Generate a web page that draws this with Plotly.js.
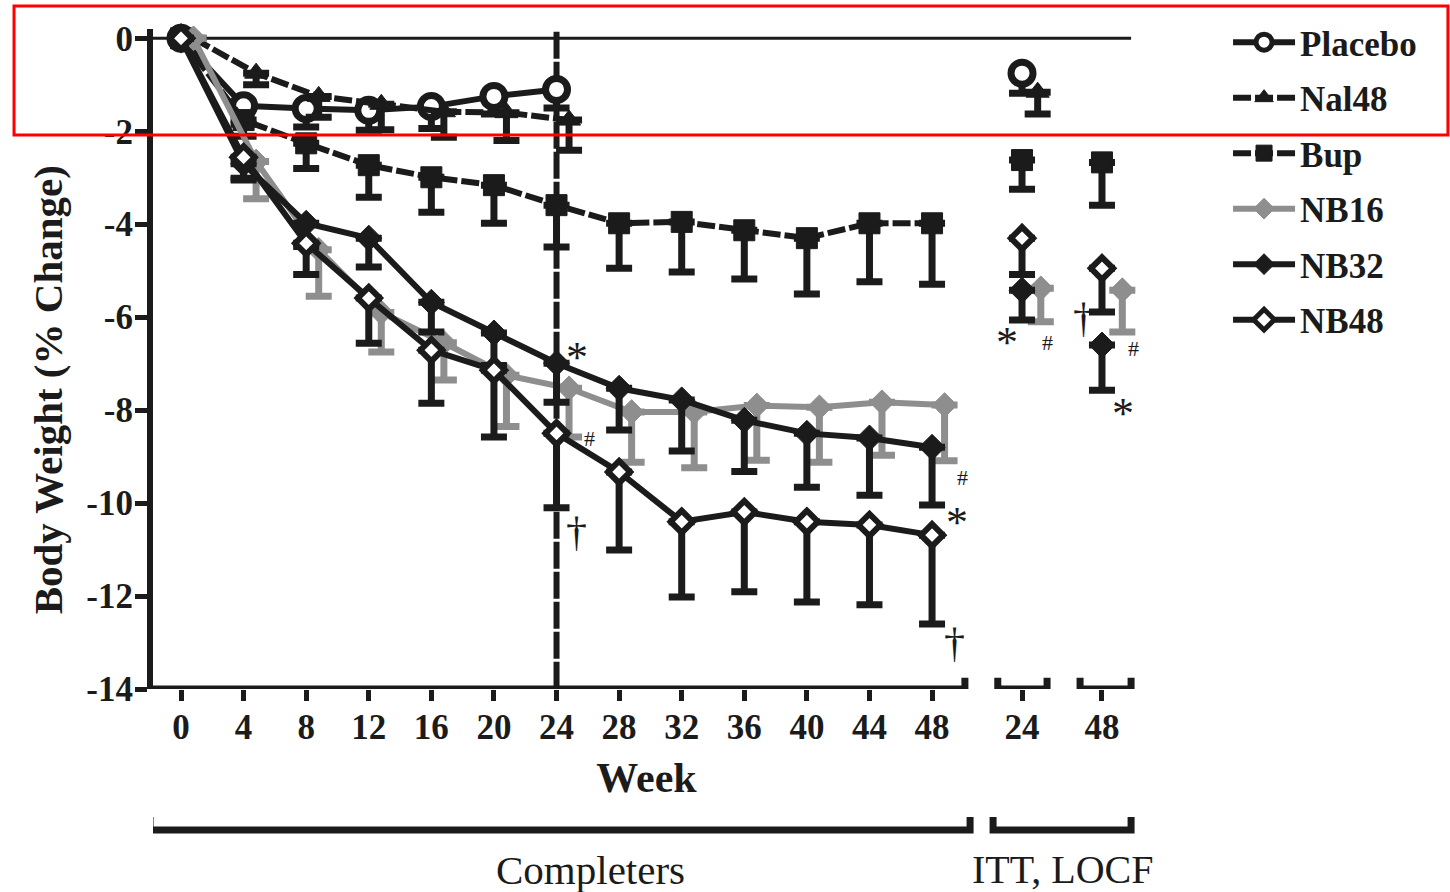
<!DOCTYPE html>
<html>
<head>
<meta charset="utf-8">
<script src="https://cdn.plot.ly/plotly-3.0.1.min.js"></script>
<style>html,body{margin:0;padding:0;background:#fff}#chart{width:1450px;height:892px}</style>
</head>
<body>
<div id="chart"></div>
<script>
// ---------------- data ----------------
const weeksShort = [0, 4, 8, 12, 16, 20, 24];
const weeksLong = [0, 4, 8, 12, 16, 20, 24, 28, 32, 36, 40, 44, 48];
const weekTickLabels = ['0','4','8','12','16','20','24','28','32','36','40','44','48'];
const ittTickLabels = ['24', '48'];
const yTickValues = [0, -2, -4, -6, -8, -10, -12, -14];
const yTickLabels = ['0', '-2', '-4', '-6', '-8', '-10', '-12', '-14'];
const seriesNames = ['Placebo', 'Nal48', 'Bup', 'NB16', 'NB32', 'NB48'];

// Completers: mean % change and SE (drawn downward)
const placebo   = [0, -1.45, -1.51, -1.55, -1.47, -1.25, -1.10];
const placeboSE = [null, 0.40, 0.40, 0.43, 0.47, 0.38, 0.40];
const nal48     = [0, -0.75, -1.25, -1.42, -1.58, -1.60, -1.76];
const nal48SE   = [null, 0.25, 0.45, 0.55, 0.55, 0.60, 0.65];
const bup       = [0, -1.76, -2.26, -2.73, -2.99, -3.16, -3.59, -3.98, -3.95, -4.13, -4.30, -3.98, -3.98];
const bupSE     = [null, 0.35, 0.54, 0.69, 0.75, 0.82, 0.90, 0.97, 1.08, 1.05, 1.20, 1.26, 1.31];
const nb16      = [0, -2.65, -4.55, -5.90, -6.55, -7.25, -7.53, -8.04, -8.04, -7.90, -7.94, -7.83, -7.89];
const nb16SE    = [null, 0.80, 1.00, 0.85, 0.80, 1.10, 1.05, 1.08, 1.20, 1.18, 1.18, 1.14, 1.20];
const nb32      = [0, -2.70, -3.98, -4.30, -5.68, -6.34, -6.99, -7.53, -7.78, -8.22, -8.50, -8.60, -8.80];
const nb32SE    = [null, 0.35, 0.50, 0.62, 0.64, 0.70, 0.84, 0.90, 1.10, 1.10, 1.16, 1.23, 1.24];
const nb48      = [0, -2.56, -4.41, -5.59, -6.71, -7.14, -8.50, -9.33, -10.40, -10.19, -10.40, -10.47, -10.69];
const nb48SE    = [null, 0.45, 0.67, 0.97, 1.14, 1.44, 1.60, 1.68, 1.62, 1.72, 1.73, 1.72, 1.91];

// ITT, LOCF at week 24 and week 48
const ittPlacebo   = [-0.75, null];
const ittPlaceboSE = [0.43, null];
const ittNal48     = [-1.16, null];
const ittNal48SE   = [0.47, null];
const ittBup       = [-2.62, -2.67];
const ittBupSE     = [0.63, 0.92];
const ittNB16      = [-5.38, -5.42];
const ittNB16SE    = [0.72, 0.90];
const ittNB32      = [-5.42, -6.60];
const ittNB32SE    = [0.64, 0.97];
const ittNB48      = [-4.30, -4.95];
const ittNB48SE    = [0.78, 0.94];

// significance marks: [symbol, week position, value]
const sigMarks = [
  ['*', 25.3, -6.65], ['#', 26.1, -8.6], ['\u2020', 25.3, -10.62],
  ['#', 49.95, -9.44], ['*', 49.6, -10.2], ['\u2020', 49.45, -13.0],
  ['*', 52.8, -6.34], ['#', 55.35, -6.54],
  ['\u2020', 57.65, -6.02], ['#', 60.85, -6.67], ['*', 60.2, -7.85]
];

// ---------------- layout constants ----------------
const BLACK = '#1b1b1b';
const GREY = '#8e8e8e';
const FONT = 'Liberation Serif, Times New Roman, serif';
const X_ITT = [53.75, 58.86];      // axis positions of ITT week 24 / week 48
const OFFSET = 0.8;                // horizontal dodge of Nal48 / NB16
const XMIN = -1.79, XMAX = 61.29;

function errY(se, color) {
  return {type: 'data', symmetric: false, array: se.map(() => 0), arrayminus: se,
          color: color, thickness: 7, width: 13};
}

const styles = {
  Placebo: {color: BLACK, dash: 'solid', marker: {symbol: 'circle', size: 22, color: '#ffffff', line: {color: BLACK, width: 7}}},
  Nal48:   {color: BLACK, dash: '18px,4px', marker: {symbol: 'triangle-up', size: 20, color: BLACK, line: {color: BLACK, width: 1}}},
  Bup:     {color: BLACK, dash: '18px,4px', marker: {symbol: 'square', size: 21, color: BLACK, line: {color: BLACK, width: 1}}},
  NB16:    {color: GREY, dash: 'solid', marker: {symbol: 'diamond', size: 19, color: GREY, line: {color: GREY, width: 1}}},
  NB32:    {color: BLACK, dash: 'solid', marker: {symbol: 'diamond', size: 20, color: BLACK, line: {color: BLACK, width: 1}}},
  NB48:    {color: BLACK, dash: 'solid', marker: {symbol: 'diamond', size: 17, color: '#ffffff', line: {color: BLACK, width: 6}}}
};

const mainData = {
  Placebo: [weeksShort, placebo, placeboSE, 0],
  Nal48:   [weeksShort, nal48, nal48SE, OFFSET],
  Bup:     [weeksLong, bup, bupSE, 0],
  NB16:    [weeksLong, nb16, nb16SE, OFFSET],
  NB32:    [weeksLong, nb32, nb32SE, 0],
  NB48:    [weeksLong, nb48, nb48SE, 0]
};
const ittData = {
  Placebo: [ittPlacebo, ittPlaceboSE, [0, 0]],
  Nal48:   [ittNal48, ittNal48SE, [1.0, 1.0]],
  Bup:     [ittBup, ittBupSE, [0, 0]],
  NB16:    [ittNB16, ittNB16SE, [1.2, 1.3]],
  NB32:    [ittNB32, ittNB32SE, [0, 0]],
  NB48:    [ittNB48, ittNB48SE, [0, 0]]
};

const traces = [];
seriesNames.forEach(name => {
  const [wk, y, se, off] = mainData[name];
  const st = styles[name];
  traces.push({
    type: 'scatter', mode: 'lines+markers', name: name, legendgroup: name,
    x: wk.map(w => w + off), y: y,
    line: {color: st.color, width: 6, dash: st.dash},
    marker: st.marker, error_y: errY(se, st.color), cliponaxis: false
  });
});
seriesNames.forEach(name => {
  const [y, se, offs] = ittData[name];
  const st = styles[name];
  traces.push({
    type: 'scatter', mode: 'markers', name: name + ' (ITT, LOCF)', legendgroup: name, showlegend: false,
    x: X_ITT.map((p, i) => p + offs[i]), y: y,
    marker: st.marker, error_y: errY(se, st.color), cliponaxis: false
  });
});

const capH = 0.24; // half height of axis end caps, in y units
const shapes = [
  {type: 'line', xref: 'x', yref: 'y', x0: XMIN, x1: 60.72, y0: 0, y1: 0, line: {color: BLACK, width: 3}, layer: 'below'},
  {type: 'line', xref: 'x', yref: 'y', x0: 24, x1: 24, y0: 0.14, y1: -14, line: {color: BLACK, width: 6, dash: '27px,3px'}, layer: 'below'},
  {type: 'path', xref: 'x', yref: 'y', layer: 'below', line: {color: BLACK, width: 7},
   path: `M${XMIN},-14 L50.1,-14 M50.1,${-14 + capH} L50.1,${-14 - capH}`},
  {type: 'path', xref: 'x', yref: 'y', layer: 'below', line: {color: BLACK, width: 7},
   path: `M52.2,${-14 + capH} L52.2,${-14 - capH} M52.2,-14 L55.35,-14 M55.35,${-14 + capH} L55.35,${-14 - capH}`},
  {type: 'path', xref: 'x', yref: 'y', layer: 'below', line: {color: BLACK, width: 7},
   path: `M57.46,${-14 + capH} L57.46,${-14 - capH} M57.46,-14 L60.72,-14 M60.72,${-14 + capH} L60.72,${-14 - capH}`},
  {type: 'path', xref: 'x', yref: 'paper', line: {color: BLACK, width: 7},
   path: 'M-1.98,-0.194 L-1.98,-0.2136 L50.43,-0.2136 L50.43,-0.194'},
  {type: 'path', xref: 'x', yref: 'paper', line: {color: BLACK, width: 7},
   path: 'M51.9,-0.194 L51.9,-0.2136 L60.72,-0.2136 L60.72,-0.194'},
  {type: 'rect', xref: 'paper', yref: 'paper', x0: -0.1408, x1: 1.312, y0: 0.8394, y1: 1.0348,
   line: {color: '#ff0000', width: 3}, fillcolor: 'rgba(0,0,0,0)', layer: 'above'}
];

const annotations = sigMarks.map(([s, x, y]) => ({
  xref: 'x', yref: 'y', x: x, y: y, text: s, showarrow: false,
  xanchor: 'center', yanchor: 'middle',
  yshift: s === '*' ? -10 : 0,
  font: {family: FONT, color: BLACK, size: s === '#' ? 22 : (s === '*' ? 44 : 42)}
}));
annotations.push(
  {xref: 'x', yref: 'paper', x: 26.14, y: -0.274, text: 'Completers', showarrow: false,
   xanchor: 'center', yanchor: 'middle', font: {family: FONT, size: 41, color: BLACK}},
  {xref: 'x', yref: 'paper', x: 56.31, y: -0.274, text: 'ITT, LOCF', showarrow: false,
   xanchor: 'center', yanchor: 'middle', font: {family: FONT, size: 40, color: BLACK}}
);

const layout = {
  width: 1450, height: 892,
  margin: {l: 153, r: 310, t: 29, b: 203, autoexpand: false},
  paper_bgcolor: '#ffffff', plot_bgcolor: '#ffffff',
  showlegend: true,
  xaxis: {
    range: [XMIN, XMAX], showline: false, showgrid: false, zeroline: false,
    ticks: 'outside', ticklen: 11, tickwidth: 5, tickcolor: BLACK, ticklabelstandoff: -4,
    tickvals: weeksLong.concat(X_ITT), ticktext: weekTickLabels.concat(ittTickLabels),
    tickfont: {family: FONT, size: 35, weight: 'bold', color: BLACK},
    title: {text: 'Week', font: {family: FONT, size: 42, weight: 'bold', color: BLACK}, standoff: 16},
    fixedrange: true
  },
  yaxis: {
    range: [-14, 0.2], showline: true, linewidth: 6, linecolor: BLACK, showgrid: false, zeroline: false,
    ticks: 'outside', ticklen: 12, tickwidth: 5, tickcolor: BLACK, ticklabelstandoff: -5,
    tickvals: yTickValues, ticktext: yTickLabels,
    tickfont: {family: FONT, size: 35, weight: 'bold', color: BLACK},
    title: {text: 'Body Weight (% Change)&nbsp;&nbsp;&nbsp;&nbsp;&nbsp;&nbsp;', font: {family: FONT, size: 41, weight: 'bold', color: BLACK}, standoff: 13},
    fixedrange: true
  },
  legend: {
    x: 1.0892, xanchor: 'left', y: 1.0244, yanchor: 'top',
    font: {family: FONT, size: 35, weight: 'bold', color: BLACK},
    traceorder: 'grouped', tracegroupgap: 7, itemwidth: 62, bgcolor: 'rgba(0,0,0,0)'
  },
  shapes: shapes,
  annotations: annotations
};

Plotly.newPlot('chart', traces, layout, {displayModeBar: false, staticPlot: true});
</script>
</body>
</html>
